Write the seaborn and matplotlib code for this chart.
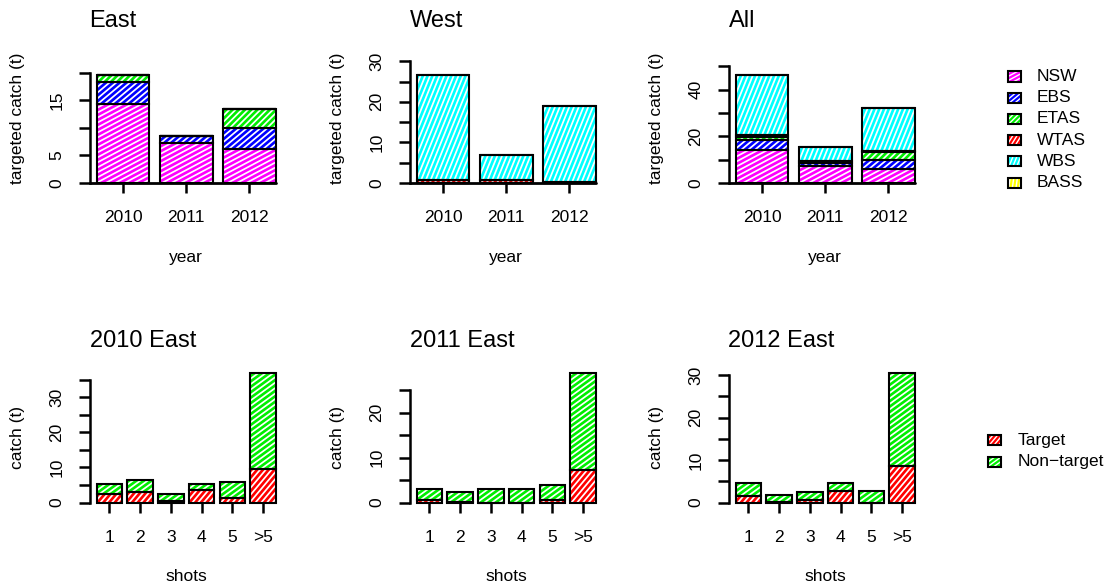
import numpy as np
import matplotlib
matplotlib.use("Agg")
import matplotlib.pyplot as plt
from matplotlib.collections import LineCollection
from matplotlib.patches import Rectangle
import seaborn as sns

sns.set_theme(style="ticks", rc={"text.color": "black", "axes.labelcolor": "black",
                                 "xtick.color": "black", "ytick.color": "black"})
plt.rcParams["font.family"] = ["Liberation Sans", "DejaVu Sans"]

# ── Data ────────────────────────────────────────────────────────────────
years = ["2010", "2011", "2012"]
regions = ["NSW", "EBS", "ETAS", "WTAS", "WBS", "BASS"]

east_nsw = [14.3, 7.3, 6.2]
east_ebs = [4.1, 1.2, 3.7]
east_etas = [1.2, 0.0, 3.5]
east_wtas = [0.0, 0.0, 0.0]
east_wbs = [0.0, 0.0, 0.0]
east_bass = [0.0, 0.0, 0.0]

west_nsw = [0.0, 0.0, 0.0]
west_ebs = [0.0, 0.0, 0.0]
west_etas = [0.0, 0.0, 0.0]
west_wtas = [0.8, 0.8, 0.2]
west_wbs = [25.8, 6.1, 18.7]
west_bass = [0.0, 0.0, 0.0]

shots = ["1", "2", "3", "4", "5", ">5"]
target_2010 = [2.4, 3.1, 0.4, 3.6, 1.4, 9.6]
nontarget_2010 = [2.8, 3.2, 2.1, 1.6, 4.3, 27.3]
target_2011 = [0.5, 0.2, 0.0, 0.0, 0.6, 7.3]
nontarget_2011 = [2.5, 2.2, 2.9, 2.9, 3.3, 21.5]
target_2012 = [1.5, 0.1, 0.7, 2.8, 0.0, 8.6]
nontarget_2012 = [3.0, 1.7, 1.7, 1.8, 2.6, 21.9]

east_yticklabels = ["0", "5", "", "15", ""]
west_yticklabels = ["0", "", "10", "", "20", "", "30"]
all_yticklabels = ["0", "", "20", "", "40", ""]
e2010_yticklabels = ["0", "", "10", "", "20", "", "30", ""]
e2011_yticklabels = ["0", "", "10", "", "20", ""]
e2012_yticklabels = ["0", "", "10", "", "20", "", "30"]

region_colours = ["#FF00FF", "#0000FF", "#00EE00", "#FF0000", "#00FFFF", "#FFFF00"]
region_angles = [28, 40, 45, 58, 68, 82]
catch_labels = ["Target", "Non\u2212target"]
catch_colours = ["#FF0000", "#00EE00"]
catch_angles = [50, 36]

W, H = 1109, 588
BAR_W = 1 / 1.2
FS = 12.5

fig = plt.figure(figsize=(W / 100, H / 100), dpi=100)


def px_axes(left, top, right, bottom):
    return fig.add_axes([left / W, 1 - bottom / H, (right - left) / W, (bottom - top) / H])


def hatch_lines(x0, y0, x1, y1, angle, spacing):
    # parallel lines (display coords) clipped to an axis-aligned box
    t = np.deg2rad(angle)
    d = np.array([np.cos(t), np.sin(t)])
    n = np.array([-np.sin(t), np.cos(t)])
    corners = np.array([[x0, y0], [x1, y0], [x0, y1], [x1, y1]])
    proj = corners @ n
    segs = []
    for k in range(int(np.ceil(proj.min() / spacing)), int(np.floor(proj.max() / spacing)) + 1):
        a = k * spacing * n
        lo, hi = -np.inf, np.inf
        for ax_i, (b0, b1) in enumerate([(x0, x1), (y0, y1)]):
            if abs(d[ax_i]) < 1e-9:
                if not (b0 <= a[ax_i] <= b1):
                    lo, hi = 1, 0
                continue
            s1, s2 = (b0 - a[ax_i]) / d[ax_i], (b1 - a[ax_i]) / d[ax_i]
            lo, hi = max(lo, min(s1, s2)), min(hi, max(s1, s2))
        if lo < hi:
            segs.append([a + lo * d, a + hi * d])
    return segs


def add_hatch(parent, trans, rect_xy, rect_wh, angle, z, spacing=4.4, lw=1.25):
    (x, y), (w, h) = rect_xy, rect_wh
    p0 = trans.transform((x, y))
    p1 = trans.transform((x + w, y + h))
    if abs(p1[1] - p0[1]) < 0.6:
        return
    segs = hatch_lines(min(p0[0], p1[0]), min(p0[1], p1[1]),
                       max(p0[0], p1[0]), max(p0[1], p1[1]), angle, spacing)
    inv = trans.inverted()
    segs = [inv.transform(np.array(s)) for s in segs]
    lc = LineCollection(segs, colors="white", linewidths=lw, zorder=z,
                        transform=trans, capstyle="butt", clip_on=False)
    if hasattr(parent, "add_collection"):
        parent.add_collection(lc, autolim=False)
    else:
        parent.add_artist(lc)


def stacked_panel(ax, cats, layers, colours, angles, ymax, yticks, yticklabels,
                  title, ylabel, xlabel, xlim, baseline):
    vals = np.array(layers, dtype=float)
    cum = np.cumsum(vals, axis=0)
    bars = {}
    for i in range(len(layers) - 1, -1, -1):
        n0 = len(ax.patches)
        sns.barplot(x=cats, y=cum[i], color=colours[i], saturation=1, width=BAR_W,
                    errorbar=None, linewidth=0, zorder=2, ax=ax)
        bars[i] = ax.patches[n0:]
        for p in bars[i]:
            p.set_clip_on(False)
    ax.set_xlim(*xlim)
    ax.set_ylim(0, ymax)
    for i in range(len(layers)):
        for j, p in enumerate(bars[i]):
            bottom = cum[i - 1][j] if i > 0 else 0.0
            add_hatch(ax, ax.transData, (p.get_x(), bottom), (p.get_width(), vals[i][j]),
                      angles[i], 3)
            ax.add_patch(Rectangle((p.get_x(), bottom), p.get_width(), vals[i][j],
                                   fill=False, ec="black", lw=1.5, zorder=4, clip_on=False))
    if baseline:
        right = (len(cats) - 1 + BAR_W / 2 - xlim[0]) / (xlim[1] - xlim[0])
        ax.axhline(0, xmin=0, xmax=right, color="black", lw=2, zorder=5, clip_on=False)

    for s in ["top", "right", "bottom"]:
        ax.spines[s].set_visible(False)
    ax.spines["left"].set_linewidth(1.8)
    ax.spines["left"].set_color("black")
    ax.spines["left"].set_bounds(yticks[0], yticks[-1])
    ax.set_yticks(yticks)
    ax.set_yticklabels(yticklabels, rotation=90, va="center", fontsize=FS)
    ax.tick_params(axis="y", length=8, width=1.8, pad=10)
    ax.tick_params(axis="x", length=7.5, width=1.8, pad=12, labelsize=FS)
    ax.set_xticks(range(len(cats)))
    ax.set_xticklabels(cats)
    ax.set_title(title, loc="left", fontsize=17, pad=19)
    ax.set_ylabel(ylabel, fontsize=FS, va="center")
    ax.set_xlabel(xlabel, fontsize=FS, va="center")
    wpx = ax.get_position().width * W
    hpx = ax.get_position().height * H
    ax.yaxis.set_label_coords(-72 / wpx, 0.5)
    ax.xaxis.set_label_coords(0.5, -74 / hpx)
    ax.set_facecolor("none")


east = [east_nsw, east_ebs, east_etas, east_wtas, east_wbs, east_bass]
west = [west_nsw, west_ebs, west_etas, west_wtas, west_wbs, west_bass]
alls = [list(np.add(e, w)) for e, w in zip(east, west)]

cols = [(89.5, 283), (409.5, 603), (728.5, 922)]
top_row = (53.5, 183)
bot_row = (373, 502.5)
xlim_top = (-0.53, 2.53)
xlim_bot = (-0.65, 5.65)

top_panels = [
    ("East", east, east_yticklabels, 5),
    ("West", west, west_yticklabels, 5),
    ("All", alls, all_yticklabels, 10),
]
for (l, r), (title, layers, ylabs, step) in zip(cols, top_panels):
    ax = px_axes(l, top_row[0], r, top_row[1])
    total = np.sum(layers, axis=0).max()
    ticks = np.arange(len(ylabs)) * step
    stacked_panel(ax, years, layers, region_colours, region_angles, total * 1.2,
                  ticks, ylabs, title, "targeted catch (t)", "year", xlim_top, True)

bot_panels = [
    ("2010 East", [target_2010, nontarget_2010], e2010_yticklabels),
    ("2011 East", [target_2011, nontarget_2011], e2011_yticklabels),
    ("2012 East", [target_2012, nontarget_2012], e2012_yticklabels),
]
for (l, r), (title, layers, ylabs) in zip(cols, bot_panels):
    ax = px_axes(l, bot_row[0], r, bot_row[1])
    total = np.sum(layers, axis=0).max()
    ticks = np.arange(len(ylabs)) * 5
    stacked_panel(ax, shots, layers, catch_colours, catch_angles, total,
                  ticks, ylabs, title, "catch (t)", "shots", xlim_bot, False)


# ── Legends ─────────────────────────────────────────────────────────────
def legend_entry(x, y, label, colour, angle, text_x):
    bw, bh = 13, 10
    xy = (x / W, 1 - (y + bh / 2) / H)
    wh = (bw / W, bh / H)
    fig.add_artist(Rectangle(xy, *wh, transform=fig.transFigure, fc=colour,
                             ec="none", zorder=5))
    add_hatch(fig, fig.transFigure, xy, wh, angle, 6, spacing=3.6, lw=1.0)
    fig.add_artist(Rectangle(xy, *wh, transform=fig.transFigure, fill=False,
                             ec="black", lw=1.5, zorder=7))
    fig.text(text_x / W, 1 - y / H, label, va="center", ha="left", fontsize=FS)


for i, (lab, c, a) in enumerate(zip(regions, region_colours, region_angles)):
    legend_entry(1008, 76.5 + i * 21.2, lab, c, a, 1037)

for i, (lab, c, a) in enumerate(zip(catch_labels, catch_colours, catch_angles)):
    legend_entry(988, 440 + i * 21.7, lab, c, a, 1018)

fig.savefig("out.png", dpi=100)
